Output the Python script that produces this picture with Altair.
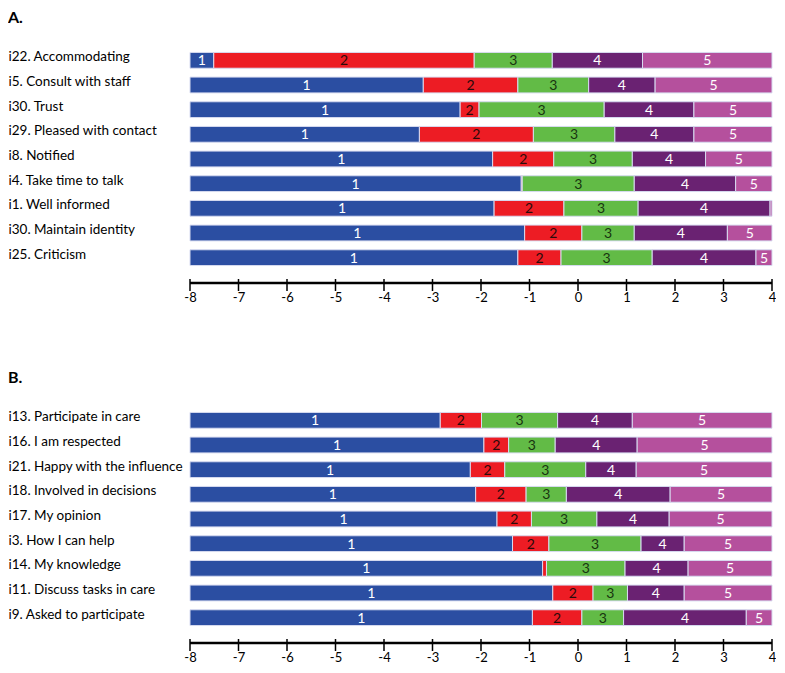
import altair as alt
import pandas as pd

cats = ["1", "2", "3", "4", "5"]
bar_colors = ["#2B4EA2", "#ED1C24", "#62BB46", "#6A2272", "#B5509D"]
text_colors = ["#ffffff", "#2a0a0a", "#183510", "#ffffff", "#ffffff"]

x_start = -8
x_end = 4
x_ticks = [-8, -7, -6, -5, -4, -3, -2, -1, 0, 1, 2, 3, 4]

# Panel A
a_items = ["i22. Accommodating", "i5. Consult with staff", "i30. Trust",
           "i29. Pleased with contact", "i8. Notified", "i4. Take time to talk",
           "i1. Well informed", "i30. Maintain identity", "i25. Criticism"]
a_end1 = [-7.51, -3.19, -2.43, -3.27, -1.76, -1.17, -1.73, -1.10, -1.24]
a_end2 = [-2.14, -1.24, -2.04, -0.92, -0.50, -1.15, -0.29, 0.08, -0.35]
a_end3 = [-0.53, 0.22, 0.54, 0.76, 1.12, 1.16, 1.24, 1.16, 1.53]
a_end4 = [1.33, 1.59, 2.39, 2.39, 2.63, 3.25, 3.96, 3.08, 3.67]

# Panel B
b_items = ["i13. Participate in care", "i16. I am respected",
           "i21. Happy with the influence", "i18. Involved in decisions",
           "i17. My opinion", "i3. How I can help", "i14. My knowledge",
           "i11. Discuss tasks in care", "i9. Asked to participate"]
b_end1 = [-2.84, -1.94, -2.22, -2.11, -1.67, -1.35, -0.73, -0.52, -0.94]
b_end2 = [-1.99, -1.43, -1.51, -1.07, -0.96, -0.60, -0.65, 0.31, 0.08]
b_end3 = [-0.42, -0.47, 0.16, -0.24, 0.39, 1.30, 0.97, 1.02, 0.94]
b_end4 = [1.12, 1.22, 1.20, 1.90, 1.88, 2.19, 2.27, 2.19, 3.47]

W = 582
H = 222
FONT = "Lato"


def panel(letter, items, e1, e2, e3, e4):
    rows = []
    for i, it in enumerate(items):
        bounds = [x_start, e1[i], e2[i], e3[i], e4[i], x_end]
        for k, c in enumerate(cats):
            x0, x1 = bounds[k], bounds[k + 1]
            rows.append(dict(item=it, cat=c, x0=x0, x1=x1, mid=(x0 + x1) / 2,
                             label=c if (x1 - x0) > 0.15 else "",
                             tcolor=text_colors[k]))
    df = pd.DataFrame(rows)

    xscale = alt.Scale(domain=[x_start, x_end], nice=False, zero=False)
    xaxis = alt.Axis(values=x_ticks, title=None, domain=False, ticks=False, grid=False,
                     labelPadding=21, labelFont=FONT, labelFontSize=13,
                     labelColor="black", labelExpr="'' + datum.value", labelFlush=False)
    yscale = alt.Scale(paddingInner=0.36, paddingOuter=0.18)
    yaxis = alt.Axis(title=None, domain=False, ticks=False, labelAlign="left",
                     labelPadding=182, labelFont=FONT, labelFontSize=13.5,
                     labelColor="black", labelOffset=-3, labelLimit=300)

    bars = alt.Chart(df).mark_bar(stroke="#d7dbf0", strokeWidth=1).encode(
        x=alt.X("x0:Q", scale=xscale, axis=xaxis),
        x2="x1:Q",
        y=alt.Y("item:N", sort=items, scale=yscale, axis=yaxis),
        color=alt.Color("cat:N", scale=alt.Scale(domain=cats, range=bar_colors), legend=None),
    )
    texts = alt.Chart(df).mark_text(font=FONT, fontSize=14, dy=1).encode(
        x=alt.X("mid:Q", scale=xscale, axis=xaxis),
        y=alt.Y("item:N", sort=items, scale=yscale, axis=yaxis),
        text="label:N",
        color=alt.Color("tcolor:N", scale=None),
    )
    line_df = pd.DataFrame({"a": [x_start], "b": [x_end]})
    axline = alt.Chart(line_df).mark_rule(color="black", strokeWidth=2.5).encode(
        x=alt.X("a:Q", scale=xscale, axis=xaxis),
        x2="b:Q",
        y=alt.value(H + 13),
    )
    tick_df = pd.DataFrame({"t": x_ticks})
    ticks = alt.Chart(tick_df).mark_rule(color="black", strokeWidth=1.5).encode(
        x=alt.X("t:Q", scale=xscale, axis=xaxis),
        y=alt.value(H + 9),
        y2=alt.value(H + 21),
    )
    letter_df = pd.DataFrame({"t": [letter]})
    lt = alt.Chart(letter_df).mark_text(font=FONT, fontSize=16, fontWeight="bold",
                                         align="left", baseline="top", color="black").encode(
        x=alt.value(-182),
        y=alt.value(-38),
        text="t:N",
    )
    return alt.layer(bars, texts, axline, ticks, lt).properties(width=W, height=H)


pa = panel("A.", a_items, a_end1, a_end2, a_end3, a_end4)
pb = panel("B.", b_items, b_end1, b_end2, b_end3, b_end4)

chart = alt.vconcat(pa, pb, spacing=66).properties(
    padding={"left": 0, "top": 2, "right": 0, "bottom": 0}
).configure_view(stroke=None)

chart.save("out.html", embed_options={"renderer": "svg", "actions": False})
